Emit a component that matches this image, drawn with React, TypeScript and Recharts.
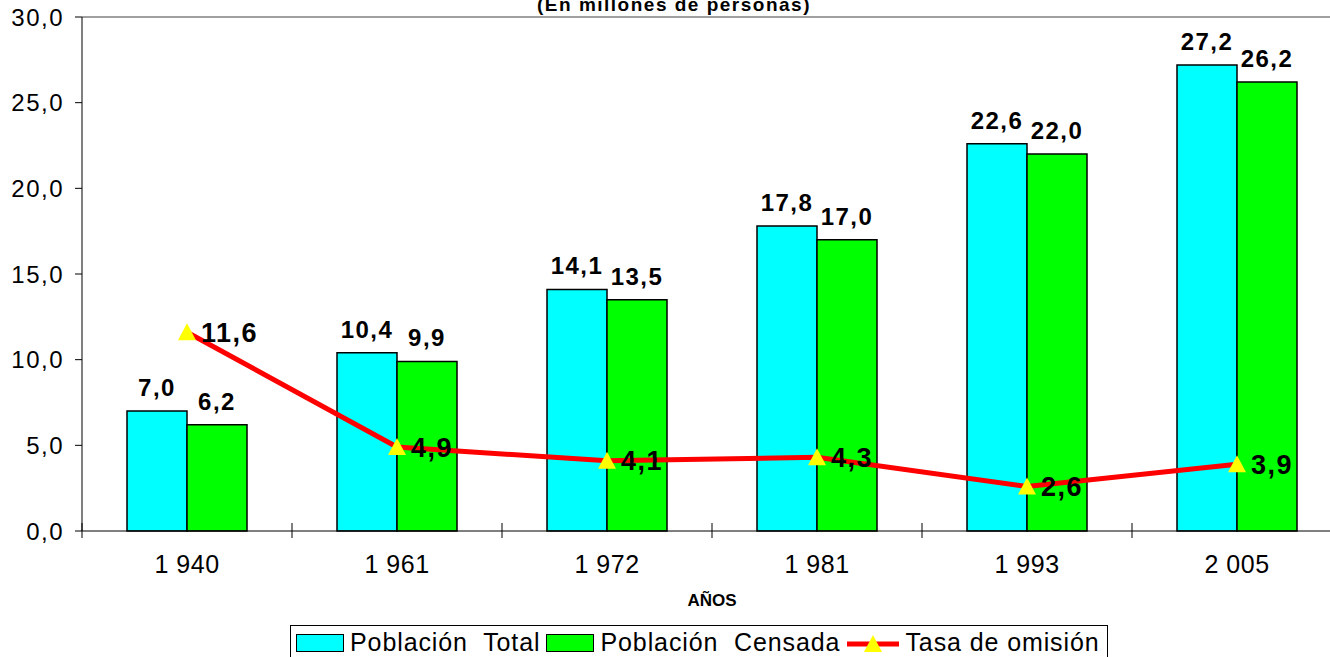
import React from 'react'
import { ComposedChart, Bar, Line, XAxis, YAxis, LabelList, ReferenceLine } from 'recharts'

const years = ['1 940', '1 961', '1 972', '1 981', '1 993', '2 005']
const poblacionTotal = [7.0, 10.4, 14.1, 17.8, 22.6, 27.2]
const poblacionCensada = [6.2, 9.9, 13.5, 17.0, 22.0, 26.2]
const tasaOmision = [11.6, 4.9, 4.1, 4.3, 2.6, 3.9]
const yTicks = [0, 5, 10, 15, 20, 25, 30]

const FONT = "Arial, 'Liberation Sans', sans-serif"
const CHART_W = 1360
const CHART_H = 657
const MARGIN = { top: 17, right: 18, bottom: 0, left: 0 }
const Y_AXIS_W = 82
const HALF_BAND = (CHART_W - MARGIN.right - MARGIN.left - Y_AXIS_W) / years.length / 2

const fmt = (v: number) => v.toFixed(1).replace('.', ',')

const data = years.map((year, i) => ({
  year,
  total: poblacionTotal[i],
  censada: poblacionCensada[i],
  omision: tasaOmision[i],
}))

function YearTick(props: any) {
  const { x, y, payload } = props
  return (
    <g>
      <line x1={x - HALF_BAND} x2={x - HALF_BAND} y1={y - 8} y2={y + 7} stroke="#000" strokeWidth={1} />
      <text x={x} y={y + 42} textAnchor="middle" fontSize={25} fontFamily={FONT} fill="#000" letterSpacing={0.5}>
        {payload.value}
      </text>
    </g>
  )
}

function Triangle(props: any) {
  const { cx, cy, index } = props
  if (cx == null || cy == null) return <g key={`dot-${index}`} />
  return (
    <polygon
      key={`dot-${index}`}
      points={`${cx},${cy - 9} ${cx - 9},${cy + 8} ${cx + 9},${cy + 8}`}
      fill="#FFFF00"
      stroke="none"
    />
  )
}

const barLabelStyle = { fontSize: 24, fontWeight: 'bold', fontFamily: FONT, fill: '#000', letterSpacing: 1.5 }

function LegendBox() {
  const item = { display: 'flex', alignItems: 'center' } as const
  const swatch = (color: string) => (
    <span style={{ display: 'inline-block', width: 46, height: 16, background: color, border: '1.5px solid #000', marginRight: 6 }} />
  )
  return (
    <div
      style={{
        position: 'absolute',
        left: 290,
        top: 625,
        width: 818,
        height: 44,
        border: '1.5px solid #000',
        boxSizing: 'border-box',
        display: 'flex',
        alignItems: 'flex-start',
        paddingTop: 4,
        paddingLeft: 5,
        fontFamily: FONT,
        fontSize: 25,
        lineHeight: '25px',
        letterSpacing: 0.9,
        whiteSpace: 'pre',
        color: '#000',
        background: '#fff',
      }}
    >
      <span style={{ ...item, marginRight: 6 }}>{swatch('#00FFFF')}Población  Total</span>
      <span style={{ ...item, marginRight: 5 }}>{swatch('#00FF00')}Población  Censada</span>
      <span style={item}>
        <svg width={56} height={22} style={{ marginRight: 4 }}>
          <line x1={2} x2={54} y1={12} y2={12} stroke="#FF0000" strokeWidth={5} />
          <polygon points="28,3 19,20 37,20" fill="#FFFF00" />
        </svg>
        Tasa de omisión
      </span>
    </div>
  )
}

export default function App() {
  return (
    <div style={{ position: 'absolute', left: 0, top: 0, width: 1330, height: 657, overflow: 'hidden', background: '#fff' }}>
      <div
        style={{
          position: 'absolute',
          left: 424,
          width: 500,
          top: -5,
          textAlign: 'center',
          fontFamily: FONT,
          fontWeight: 'bold',
          fontSize: 19,
          lineHeight: '19px',
          letterSpacing: 1.5,
          color: '#000',
        }}
      >
        (En millones de personas)
      </div>
      <ComposedChart width={CHART_W} height={CHART_H} data={data} margin={MARGIN} barGap={0}>
        <XAxis
          dataKey="year"
          height={126}
          stroke="#000"
          tickLine={false}
          tickSize={0}
          tickMargin={0}
          tick={<YearTick />}
          interval={0}
          label={{
            value: 'AÑOS',
            position: 'insideBottom',
            offset: 51,
            style: { fontSize: 17, fontWeight: 'bold', fontFamily: FONT, fill: '#000' },
          }}
        />
        <YAxis
          width={Y_AXIS_W}
          domain={[0, 30]}
          ticks={yTicks}
          interval={0}
          stroke="#000"
          tickSize={7}
          tickMargin={11}
          tickFormatter={fmt}
          tick={{ fontSize: 24, fontFamily: FONT, fill: '#000', letterSpacing: 1.5 }}
        />
        <ReferenceLine y={30} stroke="#808080" strokeWidth={1.5} />
        <Bar dataKey="total" fill="#00FFFF" stroke="#000" strokeWidth={1.5} barSize={60} isAnimationActive={false}>
          <LabelList dataKey="total" position="top" offset={15} formatter={(v: any) => fmt(Number(v))} style={barLabelStyle} />
        </Bar>
        <Bar dataKey="censada" fill="#00FF00" stroke="#000" strokeWidth={1.5} barSize={60} isAnimationActive={false}>
          <LabelList dataKey="censada" position="top" offset={15} formatter={(v: any) => fmt(Number(v))} style={barLabelStyle} />
        </Bar>
        <Line
          dataKey="omision"
          stroke="#FF0000"
          strokeWidth={5}
          dot={(p: any) => <Triangle {...p} />}
          activeDot={false}
          isAnimationActive={false}
        >
          <LabelList
            dataKey="omision"
            position="right"
            offset={14}
            formatter={(v: any) => fmt(Number(v))}
            style={{ fontSize: 27, fontWeight: 'bold', fontFamily: FONT, fill: '#000', letterSpacing: 1.5 }}
          />
        </Line>
      </ComposedChart>
      <LegendBox />
    </div>
  )
}
